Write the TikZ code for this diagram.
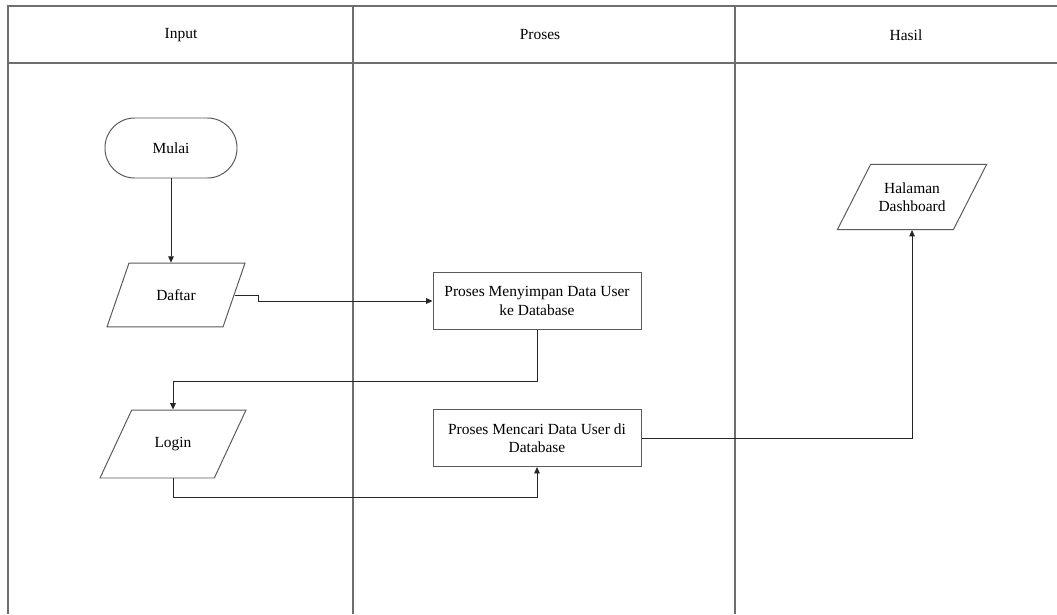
\documentclass[tikz,border=0pt]{standalone}
\usepackage{fontspec}
\setmainfont{Liberation Serif}
\usetikzlibrary{arrows.meta,positioning,shapes.geometric}
\definecolor{laneline}{RGB}{110,110,110}
\definecolor{shapeline}{RGB}{90,90,90}

\begin{document}
\begin{tikzpicture}[
  >={Triangle[length=4.5pt,width=4pt]},
  base/.style={draw=shapeline, fill=white, line width=0.7pt, align=center,
               font=\fontsize{11}{13}\selectfont, inner sep=2pt},
  term/.style={base, rounded corners=0.74cm, minimum width=3.3cm,
               minimum height=1.5cm},
  proc/.style={base, rectangle, minimum width=5.2cm, minimum height=1.43cm},
  io/.style={base, trapezium, trapezium stretches body,
             trapezium left angle=#1, trapezium right angle=180-#1,
             inner ysep=0.66cm},
  lane/.style={draw=laneline, line width=0.8pt},
  head/.style={font=\fontsize{11}{13}\selectfont},
  e/.style={->, draw=black!85, line width=0.6pt}
]
\useasboundingbox (0,0) rectangle (26.425,-15.35);

% ---- lanes
\draw[lane] (26.425,-0.15) -- (0.2,-0.15) -- (0.2,-15.35);
\draw[lane] (0.2,-1.575) -- (26.425,-1.575);
\draw[lane] (8.825,-0.15) -- (8.825,-15.35);
\draw[lane] (18.375,-0.15) -- (18.375,-15.35);
\node[head] (hin) at (4.525,-0.875) {Input};
\node[head] (hpr) at (13.5,-0.875) {Proses};
\node[head] (hha) at (22.65,-0.875) {Hasil};

% ---- nodes
\node[term] (mulai) at (4.275,-3.7) {Mulai};
\node[io=71, minimum width=3.45cm] (daftar) at (4.4,-7.375) {Daftar};
\node[io=65, minimum width=3.65cm, inner ysep=0.68cm] (login)
  at (4.325,-11.1) {Login};
\node[proc] (simpan) at (13.425,-7.525) {Proses Menyimpan Data User\\ ke Database};
\node[proc] (cari) at (13.425,-10.95) {Proses Mencari Data User di\\ Database};
\node[io=63, minimum width=3.73cm, inner ysep=0.45cm] (dash)
  at (22.8,-4.925) {Halaman\\ Dashboard};

% ---- edges
\draw[e] (mulai.south) -- (mulai.south |- daftar.north);
\draw[e] (daftar.east) -- ++(0.6,0) |- (simpan.west);
\draw[e] (simpan.south) -- ++(0,-1.275) -| (login.north);
\draw[e] (login.south) -- ++(0,-0.475) -| (cari.south);
\draw[e] (cari.east) -| (dash.south);
\end{tikzpicture}
\end{document}
